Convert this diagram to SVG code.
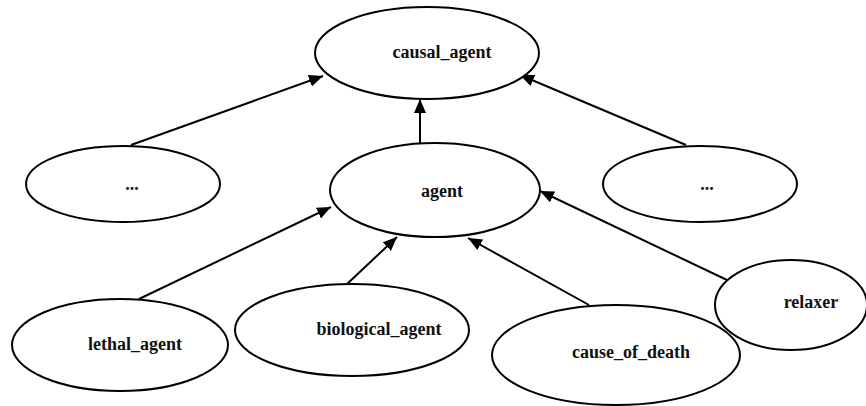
<svg xmlns="http://www.w3.org/2000/svg" width="866" height="406" viewBox="0 0 866 406">
<style>
.n ellipse{fill:#fff;stroke:#000;stroke-width:2}
.n text{font-family:"Liberation Serif","Times New Roman",serif;font-weight:bold;font-size:18px;text-anchor:middle;fill:#111}
.e line{stroke:#000;stroke-width:2;marker-end:url(#ah)}
</style>
<defs>
<marker id="ah" markerUnits="userSpaceOnUse" markerWidth="16" markerHeight="14" refX="14" refY="6" orient="auto" viewBox="0 0 16 12">
<path d="M0,0 L14,6 L0,12 Z" fill="#000"/>
</marker>
</defs>
<rect width="866" height="406" fill="#fff"/>
<g class="e" id="edges">
<line x1="131" y1="145" x2="323" y2="76"/>
<line x1="420" y1="144" x2="420" y2="99"/>
<line x1="686" y1="145" x2="520" y2="75"/>
<line x1="139" y1="299" x2="331" y2="207"/>
<line x1="347" y1="284" x2="397" y2="237"/>
<line x1="589" y1="305" x2="468" y2="238"/>
<line x1="727" y1="280" x2="540" y2="191"/>
</g>
<g class="n" id="causal_agent"><ellipse cx="427" cy="53" rx="112" ry="46"/><text x="442" y="58">causal_agent</text></g>
<g class="n" id="dots_left"><ellipse cx="123" cy="184" rx="97" ry="38"/><text x="132" y="190">...</text></g>
<g class="n" id="agent"><ellipse cx="435" cy="190" rx="105" ry="47"/><text x="442" y="197">agent</text></g>
<g class="n" id="dots_right"><ellipse cx="700" cy="184" rx="97" ry="38"/><text x="707" y="190">...</text></g>
<g class="n" id="lethal_agent"><ellipse cx="120" cy="345" rx="108" ry="46"/><text x="135" y="350">lethal_agent</text></g>
<g class="n" id="biological_agent"><ellipse cx="352" cy="330" rx="117" ry="46"/><text x="379" y="335">biological_agent</text></g>
<g class="n" id="cause_of_death"><ellipse cx="616" cy="355" rx="124" ry="50"/><text x="631" y="358">cause_of_death</text></g>
<g class="n" id="relaxer"><ellipse cx="791" cy="305" rx="76" ry="45"/><text x="811" y="308">relaxer</text></g>
</svg>
